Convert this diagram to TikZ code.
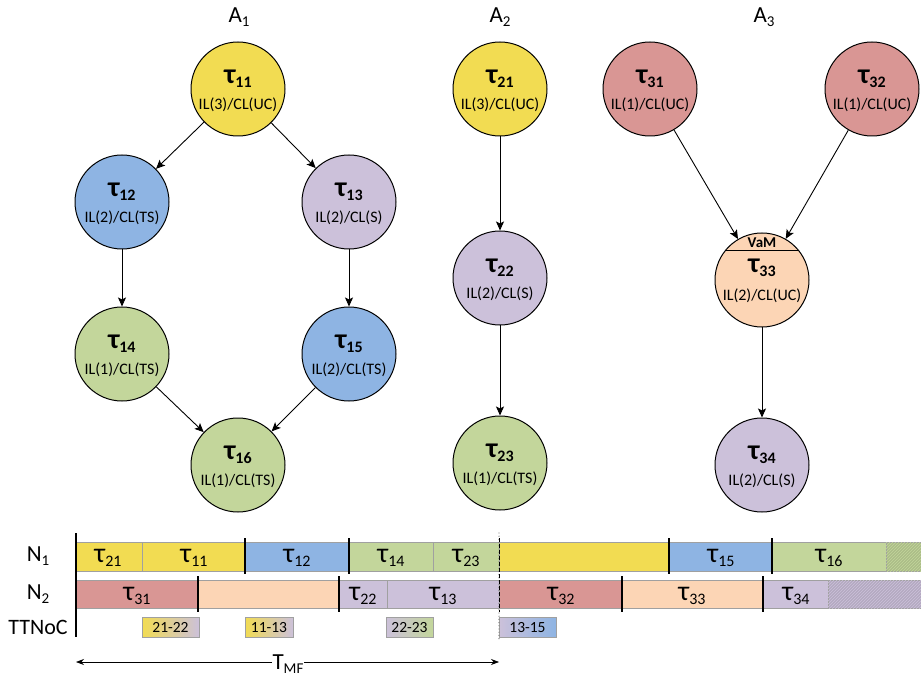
\documentclass[tikz,border=0pt]{standalone}
\usepackage{fontspec}
\setmainfont{Carlito}
\usetikzlibrary{arrows.meta,patterns}

\definecolor{cYellow}{RGB}{242,220,82}
\definecolor{cBlue}{RGB}{142,180,227}
\definecolor{cLav}{RGB}{204,193,218}
\definecolor{cGreen}{RGB}{195,214,155}
\definecolor{cRed}{RGB}{217,150,148}
\definecolor{cPeach}{RGB}{252,213,181}
\definecolor{cEdge}{RGB}{160,160,160}

% task name inside a circle (bold) and in the schedule (regular)
\newcommand\tname[1]{{\fontsize{28}{28}\selectfont\bfseries τ\raisebox{-4pt}{\fontsize{16}{16}\selectfont #1}}}
\newcommand\gname[1]{{\fontsize{28}{28}\selectfont τ\raisebox{-4pt}{\fontsize{16}{16}\selectfont #1}}}
% capital letter with a lowered index
\newcommand\capsub[2]{{\fontsize{23}{23}\selectfont #1\raisebox{-4pt}{\fontsize{15}{15}\selectfont #2}}}

\tikzset{
  tnode/.style={circle, draw=black, line width=1pt, minimum size=94pt, inner sep=0pt},
  tlabel/.style={inner sep=0pt},
  ilabel/.style={inner sep=0pt, font=\fontsize{16}{16}\selectfont},
  conn/.style={-{Stealth[length=9pt,width=8pt,inset=2pt]}, line width=0.9pt},
  gbar/.style={draw=cEdge, line width=0.8pt},
  sepline/.style={draw=black, line width=1.3pt},
  glabel/.style={inner sep=0pt},
  mlabel/.style={inner sep=0pt, font=\fontsize{15.5}{16}\selectfont},
  rowlabel/.style={inner sep=0pt},
}

% one task: name, x, y, fill, index, criticality text
\newcommand\task[6]{%
  \node[tnode, fill=#4] (#1) at (#2,#3) {};
  \node[tlabel] (#1-n) at ([yshift=10pt]#1.center) {\tname{#5}};
  \node[ilabel] (#1-l) at ([yshift=-15.5pt]#1.center) {#6};
}
% schedule segment: x1, x2, y1, y2, fill
\newcommand\gseg[5]{\draw[gbar, fill=#5] (#1,#3) rectangle (#2,#4);}
% hatched (idle) segment: x1, x2, y1, y2, fill
\newcommand\hseg[5]{%
  \draw[gbar, fill=#5!88!black] (#1,#3) rectangle (#2,#4);
  \fill[pattern=north east lines, pattern color=#5] (#1,#3) rectangle (#2,#4);
}
% message slot on the network: name, x1, x2, left colour, right colour, text
\newcommand\msg[6]{%
  \shade[left color=#4, right color=#5] (#2,617) rectangle (#3,637);
  \draw[gbar] (#2,617) rectangle (#3,637);
  \node[mlabel] (#1) at ({(#2+#3)/2},627.5) {#6};
}

\begin{document}
\begin{tikzpicture}[x=1pt, y=-1pt]
\useasboundingbox (0,0) rectangle (921,676);

% application labels
\node[rowlabel] (a1) at (239,17) {\capsub{A}{1}};
\node[rowlabel] (a2) at (500,17) {\capsub{A}{2}};
\node[rowlabel] (a3) at (764,17) {\capsub{A}{3}};

% application A1
\task{t11}{238}{89}{cYellow}{11}{IL(3)/CL(UC)}
\task{t12}{122}{202}{cBlue}{12}{IL(2)/CL(TS)}
\task{t13}{349}{202}{cLav}{13}{IL(2)/CL(S)}
\task{t14}{122}{354}{cGreen}{14}{IL(1)/CL(TS)}
\task{t15}{349}{354}{cBlue}{15}{IL(2)/CL(TS)}
\task{t16}{238}{465}{cGreen}{16}{IL(1)/CL(TS)}

% application A2
\task{t21}{500}{89}{cYellow}{21}{IL(3)/CL(UC)}
\task{t22}{500}{278}{cLav}{22}{IL(2)/CL(S)}
\task{t23}{500}{463}{cGreen}{23}{IL(1)/CL(TS)}

% application A3
\task{t31}{650}{89}{cRed}{31}{IL(1)/CL(UC)}
\task{t32}{872}{89}{cRed}{32}{IL(1)/CL(UC)}
\node[tnode, fill=cPeach] (t33) at (762,280) {};
\draw[line width=1pt] (t33.38) -- (t33.142);
\node[tlabel] (t33-v) at ([yshift=37pt]t33.center) {\fontsize{15}{15}\selectfont\bfseries VaM};
\node[tlabel] (t33-n) at ([yshift=12pt]t33.center) {\tname{33}};
\node[ilabel] (t33-l) at ([yshift=-16pt]t33.center) {IL(2)/CL(UC)};
\task{t34}{762}{465}{cLav}{34}{IL(2)/CL(S)}

% precedence edges
\draw[conn] (t11) -- (t12);
\draw[conn] (t11) -- (t13);
\draw[conn] (t12) -- (t14);
\draw[conn] (t13) -- (t15);
\draw[conn] (t14) -- (t16);
\draw[conn] (t15) -- (t16);
\draw[conn] (t21) -- (t22);
\draw[conn] (t22) -- (t23);
\draw[conn] (t31) -- (t33);
\draw[conn] (t32) -- (t33);
\draw[conn] (t33) -- (t34);

% ---------------- schedule ----------------
\node[rowlabel] (rN1) at (38,556) {\capsub{N}{1}};
\node[rowlabel] (rN2) at (38,594) {\capsub{N}{2}};
\node[rowlabel] (rNoC) at (38,627) {\fontsize{22}{22}\selectfont TTNoC};

% node N1
\gseg{76}{142}{542}{571}{cYellow}
\gseg{142}{245}{542}{571}{cYellow}
\gseg{245}{349}{542}{571}{cBlue}
\gseg{349}{433}{542}{571}{cGreen}
\gseg{433}{499}{542}{571}{cGreen}
\gseg{499}{669}{542}{571}{cYellow}
\gseg{669}{772}{542}{571}{cBlue}
\gseg{772}{886}{542}{571}{cGreen}
\hseg{886}{925}{542}{571}{cGreen}

\node[glabel] (g21) at (108,558) {\gname{21}};
\node[glabel] (g11) at (194,558) {\gname{11}};
\node[glabel] (g12) at (297,558) {\gname{12}};
\node[glabel] (g14) at (391,558) {\gname{14}};
\node[glabel] (g23) at (466,558) {\gname{23}};
\node[glabel] (g15) at (721,558) {\gname{15}};
\node[glabel] (g16) at (829,558) {\gname{16}};

% node N2
\gseg{76}{198}{580}{608}{cRed}
\gseg{198}{339}{580}{608}{cPeach}
\gseg{339}{387}{580}{608}{cLav}
\gseg{387}{499}{580}{608}{cLav}
\gseg{499}{622}{580}{608}{cRed}
\gseg{622}{763}{580}{608}{cPeach}
\gseg{763}{828}{580}{608}{cLav}
\hseg{828}{925}{580}{608}{cLav}

\node[glabel] (g31) at (137,596) {\gname{31}};
\node[glabel] (g22) at (363,596) {\gname{22}};
\node[glabel] (g13) at (443,596) {\gname{13}};
\node[glabel] (g32) at (561,596) {\gname{32}};
\node[glabel] (g33) at (692,596) {\gname{33}};
\node[glabel] (g34) at (796,596) {\gname{34}};

% job boundaries
\foreach \x in {245,349,669,772} \draw[sepline] (\x,538) -- (\x,574);
\foreach \x in {198,339,622,763} \draw[sepline] (\x,576) -- (\x,612);

% messages on the time-triggered NoC
\msg{m2122}{142}{199}{cYellow}{cLav}{21-22}
\msg{m1113}{245}{293}{cYellow}{cLav}{11-13}
\msg{m2223}{386}{433}{cLav}{cGreen}{22-23}
\msg{m1315}{499}{556}{cLav}{cBlue}{13-15}

% time axis and end of the major frame
\draw[line width=1.3pt] (76,533) -- (76,637);
\draw[gray, line width=1.4pt, line cap=round, dash pattern=on 0pt off 3.2pt] (499,533) -- (499,641);
\draw[black, line width=0.9pt, dash pattern=on 4pt off 2pt] (499,538) -- (499,612);

% major frame length
\coordinate (tmfL) at (76,662);
\coordinate (tmfR) at (499,662);
\draw[{Stealth[length=8pt,width=6pt]}-{Stealth[length=8pt,width=6pt]}, line width=0.7pt] (tmfL) -- (tmfR);
\node[fill=white, inner xsep=1pt, inner ysep=0pt] (tmf) at (288,664) {\capsub{T}{MF}};
\end{tikzpicture}
\end{document}
